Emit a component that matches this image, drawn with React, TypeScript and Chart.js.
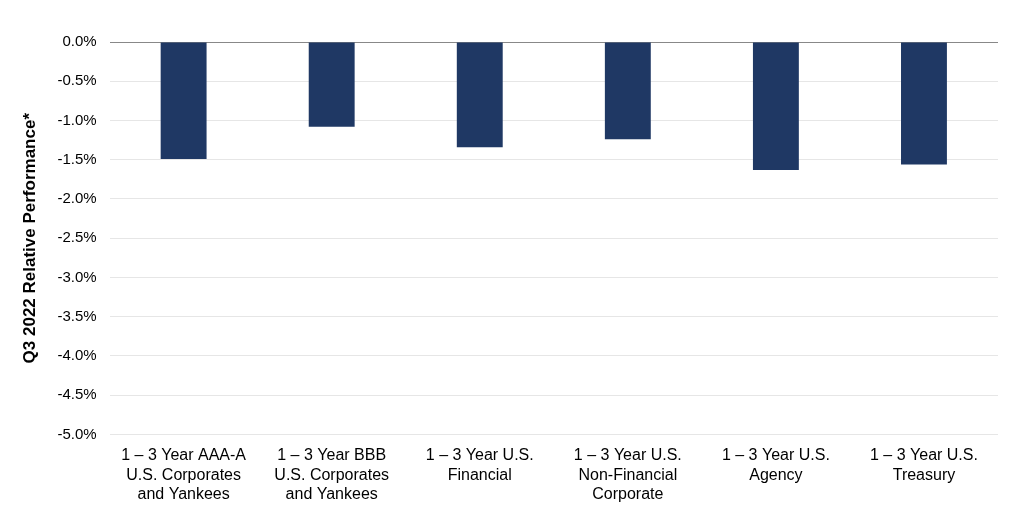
import React, { useEffect, useRef } from "react";
import { Chart, registerables } from "chart.js";
Chart.register(...registerables);

const categories = [
  ["1 – 3 Year AAA-A", "U.S. Corporates", "and Yankees"],
  ["1 – 3 Year BBB", "U.S. Corporates", "and Yankees"],
  ["1 – 3 Year U.S.", "Financial"],
  ["1 – 3 Year U.S.", "Non-Financial", "Corporate"],
  ["1 – 3 Year U.S.", "Agency"],
  ["1 – 3 Year U.S.", "Treasury"],
];
const values = [-1.49, -1.08, -1.34, -1.24, -1.63, -1.56];

export default function App() {
  const ref = useRef<HTMLCanvasElement>(null);
  useEffect(() => {
    document.body.style.margin = "0";
    const chart = new Chart(ref.current!, {
      type: "bar",
      data: {
        labels: categories,
        datasets: [{ data: values, backgroundColor: "#1f3864", barPercentage: 0.31, categoryPercentage: 1 }],
      },
      options: {
        animation: false,
        responsive: false,
        layout: { padding: { top: 34, right: 22, left: 16, bottom: 24 } },
        plugins: { legend: { display: false }, tooltip: { enabled: false } },
        scales: {
          x: {
            position: "top",
            grid: { display: false },
            border: { display: false },
            ticks: { display: false },
          },
          x2: {
            type: "category",
            labels: categories,
            position: "bottom",
            grid: { display: false },
            border: { display: false },
            ticks: { color: "#000", font: { family: "Liberation Sans", size: 16 }, maxRotation: 0, autoSkip: false, padding: 4 },
          } as any,
          y: {
            min: -5,
            max: 0,
            ticks: {
              stepSize: 0.5,
              padding: 13,
              color: "#000",
              font: { family: "Liberation Sans", size: 15 },
              callback: (v: any) => Number(v).toFixed(1) + "%",
            },
            grid: {
              color: (c: any) => (c.tick && c.tick.value === 0 ? "#888" : "#e6e6e6"),
              drawTicks: false,
            },
            border: { display: false },
            title: {
              display: true,
              text: "Q3 2022 Relative Performance*",
              color: "#000",
              font: { family: "Liberation Sans", size: 17, weight: "bold" },
            },
          },
        },
      },
    });
    return () => chart.destroy();
  }, []);
  return (
    <div style={{ width: 1020, height: 532 }}>
      <canvas ref={ref} width={1020} height={532} />
    </div>
  );
}
